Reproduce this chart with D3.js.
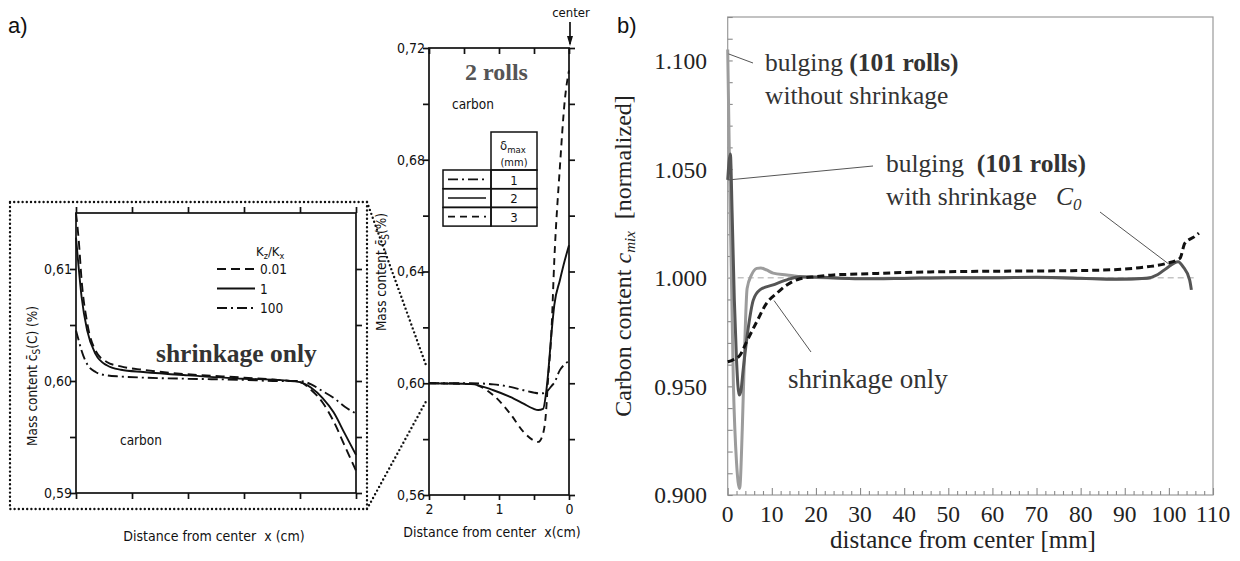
<!DOCTYPE html>
<html>
<head>
<meta charset="utf-8">
<script src="https://cdn.jsdelivr.net/npm/d3@7/dist/d3.min.js"></script>
<style>
  html, body { margin: 0; padding: 0; background: #fff; }
  svg { display: block; }
  .tech { font-family: "DejaVu Sans Condensed", "DejaVu Sans", sans-serif; fill: #111; }
  .serif { font-family: "Liberation Serif", "Times New Roman", serif; fill: #222; }
</style>
</head>
<body>
<svg id="fig" width="1240" height="561"></svg>
<script>
// ---------- Panel a, left: shrinkage only (K_z/K_x variants) ----------
const a1X = [0, 0.05, 0.1, 0.2, 0.35, 0.55, 0.8, 1.2, 2, 3, 3.6, 4, 4.2, 4.4, 4.6, 4.8, 5];
const a1Kz001 = [0.6150, 0.6125, 0.6090, 0.6052, 0.6027, 0.6017, 0.6013, 0.6010, 0.6006, 0.6003, 0.6001, 0.5999, 0.5992, 0.5981, 0.5964, 0.5942, 0.5920];
const a1Kz1   = [0.6128, 0.6100, 0.6075, 0.6045, 0.6024, 0.6014, 0.6010, 0.6008, 0.6005, 0.6002, 0.6001, 0.5999, 0.5994, 0.5985, 0.5972, 0.5953, 0.5934];
const a1Kz100 = [0.6045, 0.6036, 0.6027, 0.6015, 0.6008, 0.6005, 0.6004, 0.6003, 0.6002, 0.6001, 0.6000, 0.6000, 0.5997, 0.5991, 0.5985, 0.5977, 0.5971];
const a1YTicks = [0.59, 0.595, 0.60, 0.605, 0.61];
const a1YLabels = [0.59, 0.60, 0.61];
const a1Legend = ["0.01", "1", "100"];

// ---------- Panel a, right: 2 rolls (delta_max variants) ----------
const a2X = [2, 1.4, 1.08, 0.84, 0.65, 0.51, 0.44, 0.37, 0.33, 0.30, 0.25, 0.21, 0.13, 0.06, 0];
const a2D1 = [0.600, 0.6000, 0.5996, 0.5987, 0.5975, 0.5967, 0.5964, 0.5964, 0.5968, 0.5975, 0.5990, 0.6002, 0.6047, 0.6068, 0.6080];
const a2D2 = [0.600, 0.5997, 0.5975, 0.5951, 0.5927, 0.5909, 0.5904, 0.5908, 0.5960, 0.6030, 0.6180, 0.6280, 0.6369, 0.6440, 0.6494];
const a2D3 = [0.600, 0.5997, 0.5957, 0.5891, 0.5826, 0.5796, 0.5790, 0.5820, 0.5891, 0.6011, 0.6190, 0.6440, 0.6774, 0.7013, 0.7120];
const a2YTicks = [0.56, 0.58, 0.60, 0.62, 0.64, 0.66, 0.68, 0.70, 0.72];
const a2YLabels = [0.56, 0.60, 0.64, 0.68, 0.72];
const a2XTicks = [2, 1.5, 1, 0.5, 0];
const a2XLabels = [2, 1, 0];
const a2Legend = ["1", "2", "3"];

// ---------- Panel b: normalized carbon content ----------
const bShrinkX = [0, 1, 2.8, 4.3, 6.6, 8.8, 11.1, 13.4, 16.4, 20, 24, 30, 40, 50, 60, 70, 80, 90, 95, 99.5, 102.5, 103.6, 105.8, 106.8];
const bShrinkV = [0.9613, 0.9620, 0.9644, 0.9706, 0.9798, 0.9882, 0.9928, 0.9967, 0.9995, 1.0005, 1.0013, 1.0017, 1.0024, 1.0028, 1.0030, 1.0031, 1.0033, 1.0040, 1.0050, 1.0066, 1.0089, 1.0158, 1.0189, 1.0205];
const bWithX = [0, 0.6, 1.0, 1.5, 2.0, 2.6, 3.0, 3.5, 4.7, 5.8, 7.3, 10.3, 13.4, 16.4, 20, 30, 40, 50, 60, 70, 80, 88, 95, 97.5, 99.5, 102.1, 103.2, 104.7, 105.1];
const bWithV = [1.045, 1.057, 1.030, 0.990, 0.962, 0.946, 0.948, 0.9575, 0.9775, 0.9897, 0.9944, 0.9967, 0.9990, 1.0005, 1.0003, 0.9995, 0.9997, 1.0000, 1.0000, 1.0002, 0.9998, 0.9993, 0.9998, 1.0015, 1.0044, 1.0074, 1.0051, 0.9990, 0.9944];
const bWithoutX = [0, 0.5, 1.3, 2.0, 2.7, 3.3, 3.8, 4.4, 5.4, 6.6, 7.5, 8.8, 10.3, 13.4, 16.4, 20, 30, 40, 50, 60, 70, 80, 90, 96];
const bWithoutV = [1.105, 1.040, 0.950, 0.915, 0.903, 0.930, 0.965, 0.995, 1.0013, 1.0043, 1.0045, 1.0036, 1.0021, 1.0013, 1.0005, 1.0001, 0.9996, 0.9998, 1.0000, 1.0000, 1.0001, 0.9997, 0.9994, 0.9999];
const bC0X = [0, 106];
const bC0V = [1.0, 1.0];
const bYTicks = d3.range(0.90, 1.1201, 0.01).map(v => +v.toFixed(2));
const bYLabels = [0.90, 0.95, 1.00, 1.05, 1.10];
const bXTicks = d3.range(0, 111, 2);
const bXLabels = d3.range(0, 111, 10);

const svg = d3.select("#fig");

// ================= Panel a (left) =================
const a1x = d3.scaleLinear().domain([0, 5]).range([76, 356]);
const a1y = d3.scaleLinear().domain([0.59, 0.615]).range([493, 213]);
const fmtComma = d => d.toFixed(2).replace(".", ",");

const a1 = svg.append("g");
// dotted outline around the magnified region
a1.append("rect").attr("x", 10).attr("y", 202).attr("width", 357).attr("height", 307)
  .attr("fill", "none").attr("stroke", "#111").attr("stroke-width", 2.4)
  .attr("stroke-dasharray", "0,4.2").attr("stroke-linecap", "round");

function techAxes(g, x, y, yTicks, yLabels, xTicks, xLabels, opts) {
  const [x0, x1] = x.range(), [y0, y1] = y.range();
  g.append("rect").attr("x", x0).attr("y", y1).attr("width", x1 - x0).attr("height", y0 - y1)
    .attr("fill", "none").attr("stroke", "#111").attr("stroke-width", 1.7);
  const left = d3.axisLeft(y).tickValues(yTicks).tickSize(6)
    .tickFormat(d => yLabels.some(v => Math.abs(v - d) < 1e-9) ? fmtComma(d) : "");
  const gl = g.append("g").attr("transform", `translate(${x0},0)`).call(left);
  const right = d3.axisRight(y).tickValues(yTicks).tickSize(6).tickFormat("");
  const gr = g.append("g").attr("transform", `translate(${x1},0)`).call(right);
  const top = (opts.topIn ? d3.axisBottom(x) : d3.axisTop(x)).tickValues(xTicks).tickSize(6).tickFormat("");
  const gt = g.append("g").attr("transform", `translate(0,${y1})`).call(top);
  const bot = d3.axisBottom(x).tickValues(xTicks).tickSize(opts.botSize)
    .tickFormat(d => xLabels.includes(d) ? String(d) : "");
  const gb = g.append("g").attr("transform", `translate(0,${y0})`).call(bot);
  [gl, gr, gt, gb].forEach(a => {
    a.select(".domain").remove();
    a.selectAll(".tick line").attr("stroke", "#111").attr("stroke-width", 1.7);
    a.selectAll(".tick text").attr("class", "tech").attr("font-size", 14).attr("fill", "#111");
  });
  gl.selectAll(".tick text").attr("x", -4);
  gb.selectAll(".tick text").attr("y", 9);
}
techAxes(a1, a1x, a1y, a1YTicks, a1YLabels, [0, 1, 2, 3, 4, 5], [], { topIn: false, botSize: 6 });

const a1Line = vals => d3.line().x((d, i) => a1x(a1X[i])).y(d => a1y(d)).curve(d3.curveMonotoneX)(vals);
const a1Series = [
  { v: a1Kz001, dash: "9,5" },
  { v: a1Kz1, dash: null },
  { v: a1Kz100, dash: "10,4,2,4" }
];
a1Series.forEach(s => {
  a1.append("path").attr("d", a1Line(s.v)).attr("fill", "none")
    .attr("stroke", "#111").attr("stroke-width", 1.9)
    .attr("stroke-dasharray", s.dash);
});

// legend K_z/K_x
const a1Leg = a1.append("g");
a1Leg.append("text").attr("class", "tech").attr("x", 256).attr("y", 256).attr("font-size", 13)
  .html('K<tspan font-size="9" dy="3">z</tspan><tspan dy="-3">/K</tspan><tspan font-size="9" dy="3">x</tspan>');
a1Series.forEach((s, i) => {
  const yy = 269 + i * 19.5;
  a1Leg.append("line").attr("x1", 217).attr("x2", 255).attr("y1", yy).attr("y2", yy)
    .attr("stroke", "#111").attr("stroke-width", 1.9).attr("stroke-dasharray", s.dash);
  a1Leg.append("text").attr("class", "tech").attr("x", 260).attr("y", yy + 5)
    .attr("font-size", 13.5).text(a1Legend[i]);
});

a1.append("text").attr("class", "serif").attr("x", 156).attr("y", 362)
  .attr("font-size", 25.5).attr("font-weight", "bold").style("fill", "#333")
  .text("shrinkage only");
a1.append("text").attr("class", "tech").attr("x", 120).attr("y", 445).attr("font-size", 13.5).text("carbon");
a1.append("text").attr("class", "tech").attr("x", 214).attr("y", 541).attr("font-size", 14)
  .attr("text-anchor", "middle").attr("xml:space", "preserve").text("Distance from center  x (cm)");
a1.append("text").attr("class", "tech").attr("transform", "translate(37,376) rotate(-90)")
  .attr("font-size", 13.5).attr("text-anchor", "middle")
  .html('Mass content c\u0304<tspan font-size="10" dy="3">S</tspan><tspan dy="-3">(C) (%)</tspan>');

svg.append("text").attr("x", 8).attr("y", 33).attr("font-family", "Liberation Sans, Arial, sans-serif")
  .attr("font-size", 22).attr("fill", "#111").text("a)");

// ================= Panel a (right) =================
const a2x = d3.scaleLinear().domain([2, 0]).range([429, 569]);
const a2y = d3.scaleLinear().domain([0.56, 0.72]).range([495, 48]);
const a2 = svg.append("g");

// dotted connectors from the magnified box to the region near c = 0.60
const connectors = [[367, 202, 0.6065], [367, 509, 0.5935]];
connectors.forEach(([px, py, v]) => {
  a2.append("line").attr("x1", px).attr("y1", py).attr("x2", a2x(2) - 3).attr("y2", a2y(v))
    .attr("stroke", "#111").attr("stroke-width", 2.4).attr("stroke-dasharray", "0,4.2")
    .attr("stroke-linecap", "round");
});

techAxes(a2, a2x, a2y, a2YTicks, a2YLabels, a2XTicks, a2XLabels, { topIn: true, botSize: 5 });

const a2Line = vals => d3.line().x((d, i) => a2x(a2X[i])).y(d => a2y(d)).curve(d3.curveMonotoneX)(vals);
const a2Series = [
  { v: a2D1, dash: "10,4,2,4" },
  { v: a2D2, dash: null },
  { v: a2D3, dash: "7,5" }
];
a2Series.forEach(s => {
  a2.append("path").attr("d", a2Line(s.v)).attr("fill", "none")
    .attr("stroke", "#111").attr("stroke-width", 1.9).attr("stroke-dasharray", s.dash);
});

a2.append("text").attr("class", "serif").attr("x", 465).attr("y", 80).attr("font-size", 24)
  .attr("font-weight", "bold").style("fill", "#555").text("2 rolls");
a2.append("text").attr("class", "tech").attr("x", 452).attr("y", 109).attr("font-size", 13.5).text("carbon");

// delta_max legend table
const tb = a2.append("g").attr("stroke", "#111").attr("stroke-width", 1.5).attr("fill", "none");
tb.append("rect").attr("x", 491).attr("y", 132).attr("width", 46).attr("height", 38);
[0, 1, 2].forEach(i => {
  tb.append("rect").attr("x", 443).attr("y", 170 + i * 18.7).attr("width", 48).attr("height", 18.7);
  tb.append("rect").attr("x", 491).attr("y", 170 + i * 18.7).attr("width", 46).attr("height", 18.7);
  tb.append("line").attr("x1", 448).attr("x2", 486).attr("y1", 179.3 + i * 18.7).attr("y2", 179.3 + i * 18.7)
    .attr("stroke-width", 1.7).attr("stroke-dasharray", a2Series[i].dash);
  a2.append("text").attr("class", "tech").attr("x", 514).attr("y", 184.5 + i * 18.7)
    .attr("font-size", 13).attr("text-anchor", "middle").text(a2Legend[i]);
});
a2.append("text").attr("class", "tech").attr("x", 513).attr("y", 150).attr("font-size", 13)
  .attr("text-anchor", "middle").html('\u03B4<tspan font-size="9.5" dy="3">max</tspan>');
a2.append("text").attr("class", "tech").attr("x", 514).attr("y", 165.5).attr("font-size", 11)
  .attr("text-anchor", "middle").text("(mm)");

// "center" marker
a2.append("text").attr("class", "tech").attr("x", a2x(0) + 2).attr("y", 17).attr("font-size", 13)
  .attr("text-anchor", "middle").text("center");
a2.append("line").attr("x1", a2x(0) + 1).attr("x2", a2x(0) + 1).attr("y1", 22).attr("y2", 44)
  .attr("stroke", "#111").attr("stroke-width", 1.7);
a2.append("path").attr("d", `M${a2x(0) - 2},36 L${a2x(0) + 1},46 L${a2x(0) + 4},36 Z`).attr("fill", "#111");

a2.append("text").attr("class", "tech").attr("x", 492).attr("y", 537).attr("font-size", 14)
  .attr("text-anchor", "middle").attr("xml:space", "preserve").text("Distance from center  x(cm)");
a2.append("text").attr("class", "tech").attr("transform", "translate(386,272) rotate(-90)")
  .attr("font-size", 13.5).attr("text-anchor", "middle")
  .html('Mass content c\u0304<tspan font-size="10" dy="3">S</tspan><tspan dy="-3">(%)</tspan>');

// ================= Panel b =================
const bx = d3.scaleLinear().domain([0, 110]).range([727.7, 1213]);
const by = d3.scaleLinear().domain([0.90, 1.12]).range([495, 17]);
const b = svg.append("g");

b.append("rect").attr("x", bx(0)).attr("y", by(1.12)).attr("width", bx(110) - bx(0))
  .attr("height", by(0.9) - by(1.12)).attr("fill", "none").attr("stroke", "#9a9a9a").attr("stroke-width", 1.2);

const bLeft = d3.axisRight(by).tickValues(bYTicks).tickSize(5).tickFormat("");
const gbl = b.append("g").attr("transform", `translate(${bx(0)},0)`).call(bLeft);
const bBot = d3.axisTop(bx).tickValues(bXTicks).tickSize(0).tickFormat("");
const gbb = b.append("g").attr("transform", `translate(0,${by(0.9)})`).call(bBot);
gbb.selectAll(".tick line").attr("y2", d => bXLabels.includes(d) ? -7 : -4);
[gbl, gbb].forEach(a => {
  a.select(".domain").remove();
  a.selectAll(".tick line").attr("stroke", "#8a8a8a").attr("stroke-width", 1.1);
});
b.selectAll(".ylab").data(bYLabels).join("text").attr("class", "serif")
  .attr("x", 707).attr("y", d => by(d)).attr("dy", "0.36em").attr("text-anchor", "end")
  .attr("font-size", 23.5).style("fill", "#222").text(d => d.toFixed(3));
b.selectAll(".xlab").data(bXLabels).join("text").attr("class", "serif")
  .attr("x", d => bx(d)).attr("y", 522).attr("text-anchor", "middle")
  .attr("font-size", 23.5).style("fill", "#222").text(d => d);

b.append("text").attr("class", "serif").attr("x", 963).attr("y", 548).attr("text-anchor", "middle")
  .attr("font-size", 25).style("fill", "#222").text("distance from center [mm]");
b.append("text").attr("class", "serif").attr("transform", "translate(631,256) rotate(-90)")
  .attr("text-anchor", "middle").attr("font-size", 24).style("fill", "#222").attr("xml:space", "preserve")
  .html('Carbon content <tspan font-style="italic">c</tspan><tspan font-style="italic" font-size="15" dy="4">mix</tspan><tspan dy="-4">  [normalized]</tspan>');

const bLine = (xs, vs) => d3.line().x((d, i) => bx(xs[i])).y(d => by(d)).curve(d3.curveMonotoneX)(vs);
b.append("path").attr("d", bLine(bC0X, bC0V)).attr("fill", "none").attr("stroke", "#c4c4c4")
  .attr("stroke-width", 1.6).attr("stroke-dasharray", "6,4");
b.append("path").attr("d", bLine(bWithoutX, bWithoutV)).attr("fill", "none").attr("stroke", "#9c9c9c")
  .attr("stroke-width", 3);
b.append("path").attr("d", bLine(bWithX, bWithV)).attr("fill", "none").attr("stroke", "#555")
  .attr("stroke-width", 3);
b.append("path").attr("d", bLine(bShrinkX, bShrinkV)).attr("fill", "none").attr("stroke", "#111")
  .attr("stroke-width", 3).attr("stroke-dasharray", "7,4");

// annotations with leader lines
const lead = (x1, y1, x2, y2) => b.append("line").attr("x1", x1).attr("y1", y1).attr("x2", x2).attr("y2", y2)
  .attr("stroke", "#555").attr("stroke-width", 1);
lead(bx(0.2), by(1.103), 753, 63);
lead(bx(0.1), by(1.045), 873, 166);
lead(811, 352, bx(10.5), by(0.9895));
lead(1100, 212, bx(100.5), by(1.0055));

const ann = (x, y, html, size) => b.append("text").attr("class", "serif").attr("x", x).attr("y", y)
  .attr("font-size", size).style("fill", "#333").attr("xml:space", "preserve").html(html);
ann(765, 71, 'bulging <tspan font-weight="bold">(101 rolls)</tspan>', 25.5);
ann(765, 104, 'without shrinkage', 25.5);
ann(886, 172, 'bulging  <tspan font-weight="bold">(101 rolls)</tspan>', 25.5);
ann(886, 205, 'with shrinkage   <tspan font-style="italic">C</tspan><tspan font-style="italic" font-size="17" dy="5">0</tspan>', 25.5);
ann(788, 388, 'shrinkage only', 27);

svg.append("text").attr("x", 617).attr("y", 33).attr("font-family", "Liberation Sans, Arial, sans-serif")
  .attr("font-size", 22).attr("fill", "#111").text("b)");
</script>
</body>
</html>
